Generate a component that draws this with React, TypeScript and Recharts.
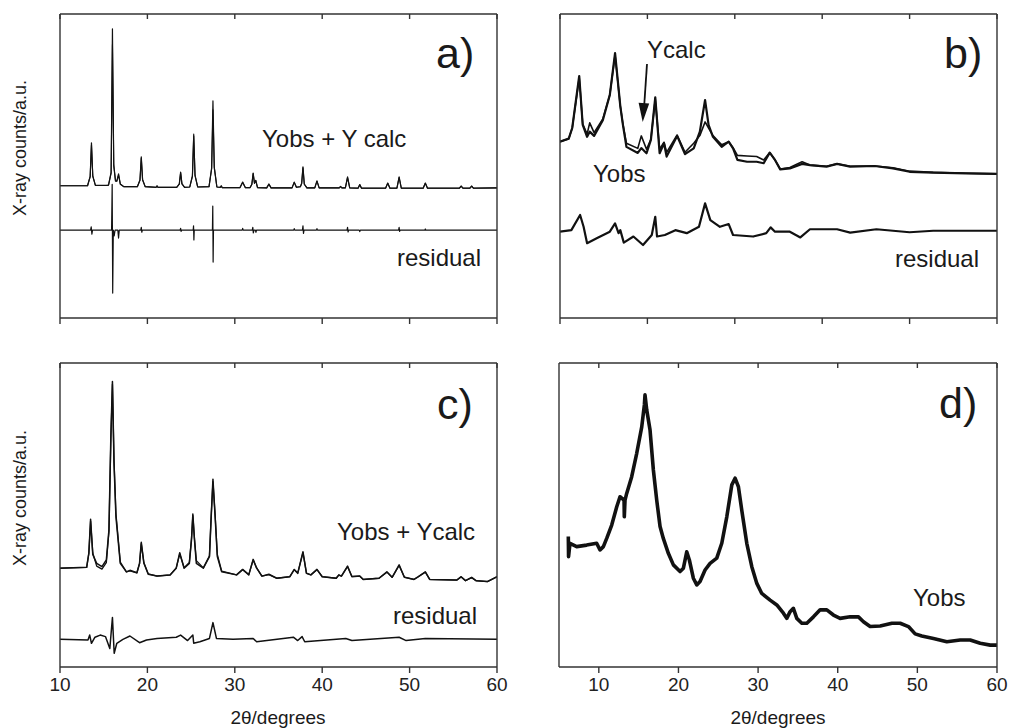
import React from 'react';
import { LineChart, Line, XAxis, YAxis } from 'recharts';

// Intensities are in arbitrary units, 0-100 over each panel's height.

// a) sharp crystalline pattern
const aTheta = [10, 12, 13.15, 13.45, 13.6, 13.75, 14.05, 15.3, 15.55, 15.85, 16, 16.15, 16.35, 16.5, 16.7, 16.9, 17.3, 18.85, 19.15, 19.3, 19.45, 19.75, 21, 21.1, 21.2, 23.35, 23.65, 23.8, 23.95, 24.25, 24.85, 25.15, 25.3, 25.45, 25.75, 27.05, 27.35, 27.5, 27.65, 27.95, 28.35, 28.45, 28.55, 30.6, 30.9, 31.2, 31.75, 31.95, 32.1, 32.25, 32.4, 32.6, 33.65, 33.9, 34.15, 36.55, 36.8, 37.05, 37.5, 37.65, 37.8, 37.95, 38.25, 39.15, 39.4, 39.65, 41.95, 42.1, 42.25, 42.65, 42.9, 43.15, 44.1, 44.3, 44.5, 47.25, 47.5, 47.75, 48.55, 48.8, 49.05, 51.55, 51.8, 52.05, 55.7, 55.9, 56.1, 56.9, 57.1, 57.3, 60];
const aObs = [43.5, 43.5, 43.5, 46.6, 57.6, 46.6, 43.6, 43.6, 43.7, 48.0, 95.1, 50.0, 45.0, 45.0, 47.4, 44.0, 43.2, 43.2, 45.4, 53.0, 45.4, 43.2, 43.0, 43.5, 43.0, 43.0, 44.1, 48.0, 44.1, 43.0, 43.1, 46.8, 59.9, 46.8, 43.1, 43.2, 49.4, 71.4, 49.4, 43.1, 43.0, 43.5, 42.9, 42.9, 44.7, 42.9, 42.9, 44.0, 47.7, 44.3, 45.3, 42.9, 42.8, 44.1, 42.8, 42.8, 44.7, 43.0, 43.2, 44.3, 49.7, 44.0, 42.8, 42.8, 45.1, 42.8, 42.8, 43.3, 42.8, 42.8, 46.4, 42.8, 42.7, 43.8, 42.7, 42.7, 44.4, 42.7, 42.7, 46.4, 42.7, 42.7, 44.4, 42.7, 42.7, 43.4, 42.7, 42.7, 43.4, 42.7, 42.8];
const aCalc = [43.5, 43.5, 43.5, 46.4, 57.0, 46.8, 43.6, 43.6, 43.7, 47.6, 90.0, 50.6, 45.2, 45.0, 47.0, 44.1, 43.2, 43.2, 45.3, 52.6, 45.5, 43.2, 43.0, 43.4, 43.0, 43.0, 44.0, 47.8, 44.2, 43.0, 43.1, 46.5, 60.5, 47.0, 43.1, 43.2, 49.0, 68.5, 49.8, 43.1, 43.0, 43.4, 42.9, 42.9, 44.6, 42.9, 42.9, 43.9, 47.5, 44.4, 45.2, 42.9, 42.8, 44.0, 42.8, 42.8, 44.6, 43.0, 43.2, 44.2, 49.4, 44.1, 42.8, 42.8, 45.0, 42.8, 42.8, 43.2, 42.8, 42.8, 46.2, 42.8, 42.7, 43.9, 42.7, 42.7, 44.3, 42.7, 42.7, 46.2, 42.7, 42.7, 44.3, 42.7, 42.7, 43.4, 42.7, 42.7, 43.4, 42.7, 42.8];
const aResidual = [[10, 28.9], [13.5, 28.9], [13.57, 30.0], [13.65, 27.6], [13.72, 28.9], [15.9, 28.9], [15.97, 44.0], [16.03, 8.2], [16.1, 28.9], [16.2, 27.0], [16.3, 28.9], [16.62, 28.9], [16.7, 26.3], [16.78, 28.9], [19.24, 28.9], [19.3, 29.8], [19.36, 28.2], [19.42, 28.9], [23.74, 28.9], [23.8, 29.5], [23.86, 28.5], [23.92, 28.9], [25.24, 28.9], [25.28, 30.3], [25.32, 25.7], [25.36, 28.9], [27.44, 28.9], [27.48, 36.8], [27.52, 18.4], [27.56, 28.9], [30.84, 28.9], [30.9, 29.5], [30.96, 28.9], [32.0, 28.9], [32.06, 29.8], [32.12, 28.0], [32.2, 28.9], [32.36, 28.9], [32.42, 28.2], [32.48, 28.9], [36.74, 28.9], [36.8, 29.4], [36.86, 28.9], [37.74, 28.9], [37.8, 30.3], [37.86, 27.8], [37.92, 28.9], [39.34, 28.9], [39.4, 29.4], [39.46, 28.9], [42.84, 28.9], [42.9, 29.8], [42.96, 28.3], [43.02, 28.9], [44.24, 28.9], [44.3, 28.4], [44.36, 28.9], [48.74, 28.9], [48.8, 29.8], [48.86, 28.5], [48.92, 28.9], [51.74, 28.9], [51.8, 29.3], [51.86, 28.9], [60, 28.9]];

// b) broadened pattern, observed vs calculated
const bTheta = [10.0, 11.0, 11.4, 12.2, 12.6, 13.1, 13.4, 13.9, 14.9, 15.7, 16.3, 16.9, 17.2, 17.6, 18.9, 19.3, 19.9, 20.4, 20.9, 21.4, 21.9, 22.2, 23.4, 24.3, 25.3, 26.0, 26.6, 27.0, 27.5, 28.5, 29.3, 29.8, 30.3, 31.4, 32.5, 33.3, 34.0, 34.6, 35.2, 36.3, 37.7, 38.6, 40.5, 41.7, 43.2, 46.0, 48.1, 50.0, 52.7, 56.5, 60];
const bObs = [58.0, 59.0, 62.5, 79.6, 63.5, 59.6, 61.3, 59.9, 65.1, 73.4, 87.1, 69.7, 63.5, 56.3, 54.3, 55.9, 54.2, 58.6, 72.6, 54.2, 57.5, 53.1, 59.9, 53.9, 55.8, 61.3, 71.7, 63.5, 59.6, 56.3, 58.0, 55.8, 52.0, 51.4, 51.4, 50.9, 54.4, 52.0, 48.9, 49.2, 50.7, 50.3, 49.8, 50.7, 49.8, 50.0, 49.2, 48.1, 47.8, 47.6, 47.4];
const bCalc = [58.0, 59.0, 62.5, 79.0, 63.8, 60.5, 64.2, 61.0, 65.5, 73.4, 86.5, 69.7, 63.8, 57.5, 55.8, 59.9, 55.5, 58.8, 72.0, 55.5, 57.8, 54.5, 60.2, 54.5, 57.5, 60.0, 64.5, 62.5, 60.0, 57.0, 58.0, 56.0, 53.5, 53.3, 53.1, 52.0, 54.4, 52.0, 49.0, 49.5, 51.4, 50.3, 49.9, 50.7, 49.9, 50.0, 49.4, 48.3, 47.9, 47.6, 47.4];
const bResidual = [[10, 28.4], [11.3, 28.9], [12.3, 33.9], [12.7, 30.0], [13.1, 24.6], [14.2, 26.2], [15.7, 28.4], [16.3, 31.1], [16.7, 27.9], [16.9, 28.9], [17.3, 24.8], [18.4, 26.8], [19.5, 24.0], [20.5, 27.3], [20.9, 33.3], [21.1, 26.8], [22.0, 27.3], [23.2, 28.9], [24.5, 27.9], [25.9, 30.0], [26.6, 37.7], [27.2, 32.2], [28.3, 30.0], [29.3, 30.9], [29.8, 27.3], [32.1, 26.8], [33.6, 27.9], [34.1, 29.8], [34.6, 28.4], [36.3, 28.4], [37.5, 26.5], [38.6, 29.2], [41.7, 29.2], [43.2, 28.1], [46.2, 29.2], [50.0, 28.2], [52.7, 28.7], [60, 28.7]];

// c) same phase, broader peaks
const cTheta = [10, 13.05, 13.3, 13.5, 13.75, 14.2, 14.8, 15.3, 15.6, 15.82, 16.0, 16.18, 16.4, 16.9, 17.6, 18.0, 18.8, 19.1, 19.3, 19.6, 20.1, 21.1, 22.6, 23.3, 23.7, 24.2, 24.8, 25.05, 25.2, 25.38, 25.6, 26.4, 27.1, 27.3, 27.5, 27.75, 28.0, 28.5, 30.2, 30.9, 31.6, 32.1, 32.5, 33.1, 33.9, 34.8, 36.3, 36.8, 37.2, 37.8, 38.2, 38.7, 39.4, 40.0, 41.6, 41.9, 42.2, 42.9, 43.4, 44.3, 44.7, 46.5, 47.4, 48.0, 48.8, 49.4, 50.5, 51.0, 51.8, 52.3, 55.4, 55.9, 56.4, 57.1, 57.6, 58.9, 60];
const cObs = [32.5, 32.8, 37.5, 48.6, 37.0, 34.1, 33.0, 35.2, 45.1, 76.0, 93.9, 67.0, 49.4, 34.1, 31.3, 31.8, 31.0, 34.1, 41.0, 34.1, 30.5, 29.9, 30.3, 32.5, 37.6, 32.5, 34.1, 42.0, 50.3, 42.0, 34.1, 32.5, 36.3, 49.4, 61.8, 49.4, 36.3, 31.3, 30.3, 32.1, 30.3, 35.4, 32.5, 29.9, 30.5, 29.2, 29.7, 32.1, 30.8, 37.9, 30.8, 30.3, 32.1, 29.7, 29.2, 30.3, 29.9, 33.2, 29.7, 29.9, 28.8, 29.2, 31.3, 29.5, 33.6, 29.5, 28.8, 29.7, 31.3, 28.8, 28.6, 29.7, 28.4, 29.5, 28.4, 28.1, 29.7];
const cCalc = [32.5, 32.8, 37.3, 48.0, 37.5, 33.2, 32.2, 34.3, 44.5, 75.0, 93.0, 68.0, 50.5, 34.5, 31.3, 31.6, 31.0, 34.0, 40.6, 34.3, 30.6, 29.9, 30.3, 32.6, 37.2, 32.7, 34.4, 42.5, 49.8, 42.6, 35.0, 32.6, 36.6, 49.8, 61.0, 50.0, 37.0, 31.5, 30.3, 32.0, 30.4, 35.2, 32.6, 29.9, 30.4, 29.2, 29.7, 32.0, 30.9, 37.6, 30.9, 30.3, 32.0, 29.7, 29.2, 30.2, 29.9, 33.0, 29.8, 29.9, 28.8, 29.2, 31.2, 29.5, 33.4, 29.6, 28.8, 29.7, 31.2, 28.8, 28.6, 29.6, 28.4, 29.4, 28.4, 28.1, 29.7];
const cResidual = [[10, 9.1], [13.2, 8.9], [13.4, 10.5], [13.6, 7.8], [14.0, 9.8], [14.6, 10.5], [15.2, 10.0], [15.7, 6.1], [16.0, 16.3], [16.2, 4.5], [16.5, 7.8], [17.2, 9.1], [18.0, 10.2], [19.1, 8.0], [19.9, 8.9], [21.1, 9.4], [23.3, 9.8], [23.8, 10.5], [24.6, 8.7], [25.2, 10.5], [25.3, 7.8], [26.0, 8.3], [27.1, 9.4], [27.5, 14.6], [27.9, 9.4], [29.8, 9.1], [32.1, 9.4], [32.5, 8.3], [36.7, 9.8], [37.2, 8.7], [37.7, 10.0], [38.0, 8.3], [42.7, 9.4], [43.4, 8.7], [48.8, 9.8], [49.6, 8.7], [51.8, 9.4], [60, 9.1]];

// d) amorphous-looking pattern, observed only
const dObs = [[6.17, 42.9], [6.2, 36.3], [6.38, 40.7], [7.22, 39.6], [8.47, 40.1], [9.73, 40.7], [10.15, 38.5], [10.57, 39.6], [10.99, 42.3], [11.62, 46.7], [12.25, 52.7], [12.66, 56.0], [13.17, 54.9], [13.2, 49.4], [13.29, 54.9], [13.5, 57.1], [14.13, 62.6], [14.76, 70.3], [15.39, 79.0], [15.72, 86.2], [15.8, 89.5], [16.02, 84.5], [16.43, 78.0], [16.85, 64.8], [17.27, 54.9], [17.69, 46.2], [18.1, 42.3], [18.73, 37.4], [19.36, 33.6], [20.2, 31.4], [20.62, 32.5], [21.04, 37.9], [21.37, 35.2], [21.87, 29.2], [22.3, 27.0], [22.71, 28.1], [23.34, 31.9], [23.97, 34.1], [24.81, 35.8], [25.44, 40.7], [26.07, 49.4], [26.7, 59.9], [27.11, 62.1], [27.53, 59.3], [27.95, 51.6], [28.58, 40.7], [29.21, 33.0], [29.84, 27.5], [30.46, 24.2], [31.51, 22.0], [32.35, 20.4], [33.18, 17.7], [33.6, 16.0], [34.02, 18.2], [34.43, 19.3], [34.86, 16.0], [35.49, 14.4], [36.12, 14.4], [36.95, 16.5], [37.79, 18.8], [38.63, 18.8], [39.46, 17.1], [40.3, 16.0], [41.56, 16.5], [42.6, 16.5], [43.23, 14.9], [44.07, 13.3], [45.33, 13.5], [46.8, 14.4], [47.84, 14.4], [48.88, 13.3], [49.72, 10.9], [50.56, 10.2], [52.02, 9.4], [53.7, 8.3], [55.38, 8.9], [56.63, 8.9], [57.89, 7.8], [59.15, 7.2], [60, 7.2]];

const thetaTicks = [10, 20, 30, 40, 50, 60];
const xTitle = '2θ/degrees';
const yTitle = 'X-ray counts/a.u.';

const FONT = '"Liberation Sans", Arial, Helvetica, sans-serif';
const FRAME = '#333';
const INK = '#111';

type Row = { x: number; y: number };
type Trace = { rows: Row[]; width: number };

const fromTheta = (theta: number[], values: number[]): Row[] => theta.map((x, i) => ({ x, y: values[i] }));
const fromPairs = (pairs: number[][]): Row[] => pairs.map(([x, y]) => ({ x, y }));

interface PanelProps {
  left: number;
  top: number;
  width: number;
  height: number;
  margin: { top: number; right: number; bottom: number; left: number };
  domain: [number, number];
  labels: boolean;
  traces: Trace[];
}

// axes need a non-zero size or recharts skips them, so 1px each and the margins make up the rest
function Panel({ left, top, width, height, margin, domain, labels, traces }: PanelProps) {
  const axisStroke = { stroke: FRAME, strokeWidth: 1.4 };
  return (
    <div style={{ position: 'absolute', left, top }}>
      <LineChart width={width} height={height} margin={margin}>
        <XAxis
          xAxisId="bottom"
          type="number"
          dataKey="x"
          domain={domain}
          ticks={thetaTicks}
          interval={0}
          height={1}
          allowDataOverflow
          tickSize={6}
          tickMargin={5}
          axisLine={axisStroke}
          tickLine={axisStroke}
          tick={{ fill: '#222', fontSize: 19, fontFamily: FONT }}
          tickFormatter={(v: number) => (labels ? String(v) : '')}
        />
        <XAxis
          xAxisId="top"
          orientation="top"
          type="number"
          dataKey="x"
          domain={domain}
          ticks={thetaTicks}
          interval={0}
          height={1}
          mirror
          allowDataOverflow
          tickSize={5}
          axisLine={axisStroke}
          tickLine={axisStroke}
          tickFormatter={() => ''}
        />
        <YAxis yAxisId="left" type="number" domain={[0, 100]} width={1} allowDataOverflow tick={false} tickLine={false} axisLine={axisStroke} />
        <YAxis yAxisId="right" orientation="right" type="number" domain={[0, 100]} width={1} allowDataOverflow tick={false} tickLine={false} axisLine={axisStroke} />
        {traces.map((t, i) => (
          <Line
            key={i}
            xAxisId="bottom"
            yAxisId="left"
            data={t.rows}
            dataKey="y"
            type="linear"
            dot={false}
            activeDot={false}
            stroke={INK}
            strokeWidth={t.width}
            strokeLinejoin="round"
            isAnimationActive={false}
          />
        ))}
      </LineChart>
    </div>
  );
}

export default function App() {
  const text = { fontFamily: FONT, fill: '#1a1a1a' };
  return (
    <div style={{ position: 'absolute', left: 0, top: 0, width: 1009, height: 728, background: '#fff', overflow: 'hidden' }}>
      <Panel
        left={0} top={0} width={515} height={330}
        margin={{ top: 14, right: 17, bottom: 11, left: 59 }}
        domain={[10, 60]} labels={false}
        traces={[
          { rows: fromTheta(aTheta, aCalc), width: 1.1 },
          { rows: fromTheta(aTheta, aObs), width: 1.2 },
          { rows: fromPairs(aResidual), width: 1.2 },
        ]}
      />
      <Panel
        left={500} top={0} width={509} height={330}
        margin={{ top: 14, right: 11, bottom: 11, left: 59 }}
        domain={[10, 60]} labels={false}
        traces={[
          { rows: fromTheta(bTheta, bCalc), width: 1.6 },
          { rows: fromTheta(bTheta, bObs), width: 2.2 },
          { rows: fromPairs(bResidual), width: 2.2 },
        ]}
      />
      <Panel
        left={0} top={340} width={515} height={388}
        margin={{ top: 23, right: 17, bottom: 60, left: 59 }}
        domain={[10, 60]} labels
        traces={[
          { rows: fromTheta(cTheta, cCalc), width: 1.3 },
          { rows: fromTheta(cTheta, cObs), width: 1.5 },
          { rows: fromPairs(cResidual), width: 1.5 },
        ]}
      />
      <Panel
        left={500} top={340} width={509} height={388}
        margin={{ top: 23, right: 11, bottom: 60, left: 58 }}
        domain={[5, 60]} labels
        traces={[{ rows: fromPairs(dObs), width: 3.6 }]}
      />

      {/* annotations */}
      <svg width={1009} height={728} style={{ position: 'absolute', left: 0, top: 0, pointerEvents: 'none' }}>
        <text {...text} fontSize={18} textAnchor="middle" transform="translate(26,148) rotate(-90)">{yTitle}</text>
        <text {...text} fontSize={18} textAnchor="middle" transform="translate(26,498) rotate(-90)">{yTitle}</text>
        <text {...text} fontSize={19} textAnchor="middle" x={278} y={724}>{xTitle}</text>
        <text {...text} fontSize={19} textAnchor="middle" x={778} y={724}>{xTitle}</text>

        <text {...text} fontSize={43} x={436} y={68}>a)</text>
        <text {...text} fontSize={43} x={944} y={68}>b)</text>
        <text {...text} fontSize={43} x={437} y={419}>c)</text>
        <text {...text} fontSize={43} x={939} y={418}>d)</text>

        <text {...text} fontSize={24} x={262} y={147}>Yobs + Y calc</text>
        <text {...text} fontSize={24} x={397} y={266}>residual</text>

        <text {...text} fontSize={24} x={647} y={58}>Ycalc</text>
        <text {...text} fontSize={24} x={593} y={182}>Yobs</text>
        <text {...text} fontSize={24} x={895} y={267}>residual</text>
        <line x1={647} y1={64} x2={644.3} y2={104} stroke={INK} strokeWidth={1.8} />
        <polygon points="642.7,122 638.6,102.8 649.2,103.5" fill={INK} />

        <text {...text} fontSize={24} x={337} y={540}>Yobs + Ycalc</text>
        <text {...text} fontSize={24} x={393} y={624}>residual</text>

        <text {...text} fontSize={24} x={913} y={606}>Yobs</text>
      </svg>
    </div>
  );
}
